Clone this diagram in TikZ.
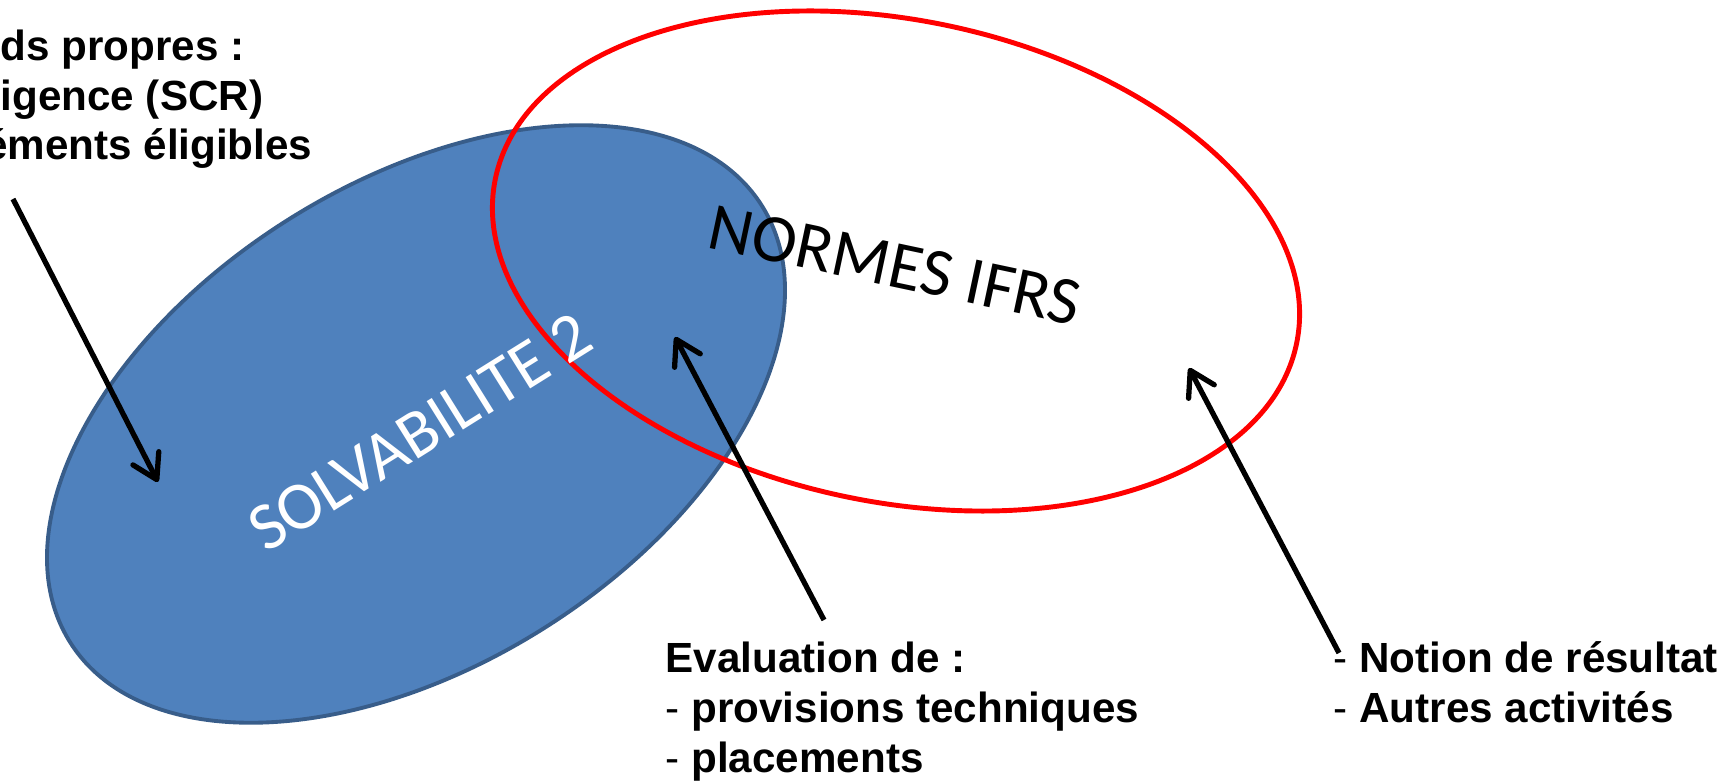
\documentclass[tikz,border=0pt]{standalone}
\usepackage{fontspec}
\setmainfont{Liberation Sans}
\newfontfamily\calibri{Carlito}
\usepackage{tikz}
\usetikzlibrary{shapes.geometric, arrows.meta, positioning}
\definecolor{solvablue}{HTML}{4F81BD}
\definecolor{solvaedge}{HTML}{385D8A}

\begin{document}
\begin{tikzpicture}
	
	\tikzset{
		zone/.style={ellipse, minimum width=8.18cm, minimum height=4.82cm, inner sep=0pt},
		zone text/.style={font=\calibri\fontsize{19.3}{23}\selectfont, inner sep=0pt},
		note/.style={font=\fontsize{12}{14.2}\selectfont\bfseries, align=left, inner sep=0pt, anchor=base west},
		pointer/.style={line width=1.5pt, -{Straight Barb[length=2.4mm,width=2.9mm,round]}}
	}
	
	\useasboundingbox (0,0) rectangle (17.32,7.82);
	
	% les deux referentiels
	\node[zone, fill=solvablue, draw=solvaedge, line width=1.1pt, rotate=32.3] (solva) at (4.16,3.58) {};
	\node[zone, draw=red, line width=1.4pt, rotate=-11.6] (ifrs) at (8.96,5.21) {};
	
	\node[zone text, white, rotate=32] (solvalabel) at (4.2,3.5) {SOLVABILITE 2};
	\node[zone text, rotate=-12] (ifrslabel) at (8.95,5.17) {NORMES IFRS};
	
	% commentaires (ancre = ligne de base de la derniere ligne)
	\node[note] (fonds) at (0,6.22)
		{ds propres :\\ igence (SCR)\\ \hspace*{-0.39em}\'ements \'eligibles};
	\node[note] (evaluation) at (6.65,0.10)
		{Evaluation de :\\ \textmd{-} provisions techniques\\ \textmd{-} placements};
	\node[note] (resultat) at (13.33,0.60)
		{\textmd{-} Notion de r\'esultat\\ \textmd{-} Autres activit\'es};
	
	% fleches
	\coordinate (fondsend) at (0.13,5.83);
	\coordinate (fondstip) at (1.58,3.00);
	\coordinate (evalend) at (8.24,1.62);
	\coordinate (evaltip) at (6.75,4.45);
	\coordinate (resend) at (13.39,1.29);
	\coordinate (restip) at (11.89,4.14);
	
	\draw[pointer] (fondsend) -- (fondstip);
	\draw[pointer] (evalend) -- (evaltip);
	\draw[pointer] (resend) -- (restip);
	
\end{tikzpicture}
\end{document}
